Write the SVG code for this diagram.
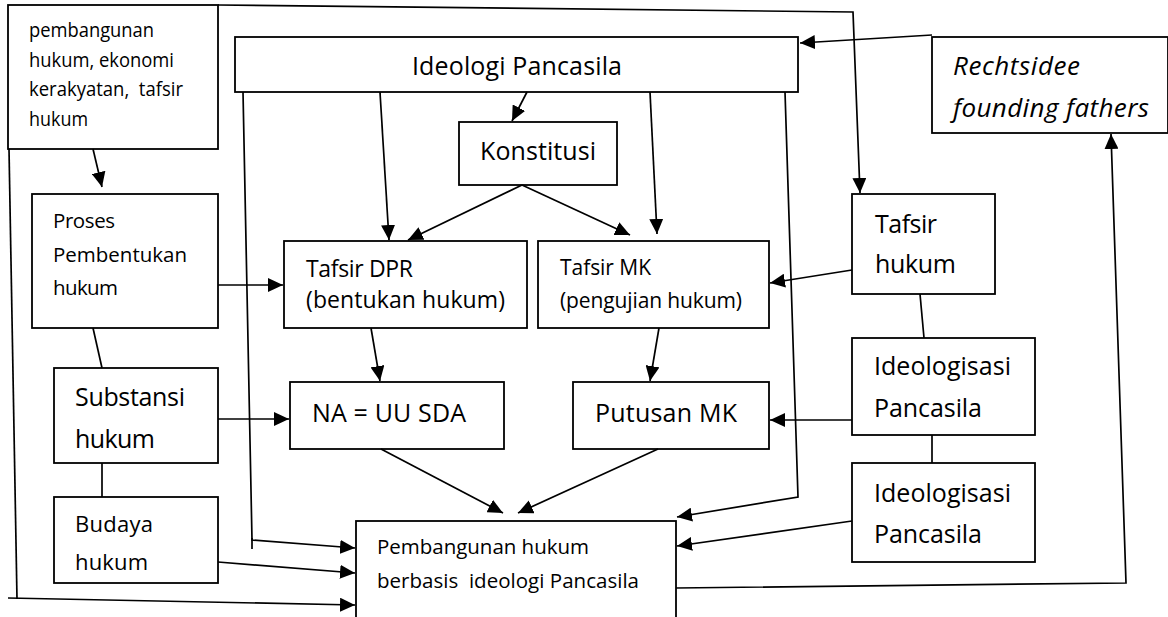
<svg xmlns="http://www.w3.org/2000/svg" width="1168" height="617" viewBox="0 0 1168 617">
<style>
.box{fill:#fff;stroke:#000;stroke-width:1.8}
.ln{fill:none;stroke:#000;stroke-width:1.7}
.ar{marker-end:url(#ah)}
text{font-family:"Open Sans","Noto Sans","Liberation Sans",sans-serif;fill:#000}
.s19{font-size:20px}
.s20{font-size:20.5px}
.s21{font-size:21px}
.s22{font-size:22px}
.s23{font-size:23px}
.s25{font-size:25px}
.it{font-style:italic;font-size:26px}
</style>
<defs>
<marker id="ah" markerUnits="userSpaceOnUse" markerWidth="15" markerHeight="14" refX="15" refY="7" orient="auto">
<path d="M0,0 L15,7 L0,14 z" fill="#000"/>
</marker>
</defs>
<rect width="1168" height="617" fill="#fff"/>

<g id="n-top-left">
<rect class="box" x="8" y="5" width="210" height="144"/>
<text class="s19" x="29" y="37" textLength="125" lengthAdjust="spacingAndGlyphs">pembangunan</text>
<text class="s19" x="29" y="67" textLength="145" lengthAdjust="spacingAndGlyphs">hukum, ekonomi</text>
<text class="s19" x="29" y="96" textLength="154" lengthAdjust="spacingAndGlyphs" xml:space="preserve">kerakyatan,  tafsir</text>
<text class="s19" x="29" y="126" textLength="59" lengthAdjust="spacingAndGlyphs">hukum</text>
</g>
<g id="n-ideologi">
<rect class="box" x="235" y="37" width="563" height="55"/>
<text class="s25" x="412" y="75" textLength="210">Ideologi Pancasila</text>
</g>
<g id="n-rechtsidee">
<rect class="box" x="932" y="37" width="236" height="96"/>
<text class="it" x="953" y="75" textLength="127">Rechtsidee</text>
<text class="it" x="953" y="117" textLength="196">founding fathers</text>
</g>
<g id="n-konstitusi">
<rect class="box" x="459" y="122" width="158" height="63"/>
<text class="s25" x="480" y="160" textLength="116">Konstitusi</text>
</g>
<g id="n-proses">
<rect class="box" x="32" y="194" width="186" height="134"/>
<text class="s20" x="53" y="228" textLength="62">Proses</text>
<text class="s20" x="53" y="262" textLength="134">Pembentukan</text>
<text class="s20" x="53" y="295" textLength="65">hukum</text>
</g>
<g id="n-tafsir-dpr">
<rect class="box" x="284" y="241" width="243" height="87"/>
<text class="s23" x="306" y="277" textLength="107">Tafsir DPR</text>
<text class="s23" x="306" y="308" textLength="199">(bentukan hukum)</text>
</g>
<g id="n-tafsir-mk">
<rect class="box" x="538" y="241" width="231" height="87"/>
<text class="s21" x="560" y="275" textLength="91">Tafsir MK</text>
<text class="s21" x="560" y="308" textLength="182">(pengujian hukum)</text>
</g>
<g id="n-tafsir-hukum">
<rect class="box" x="852" y="194" width="143" height="100"/>
<text class="s25" x="875" y="233" textLength="62">Tafsir</text>
<text class="s25" x="875" y="273" textLength="81">hukum</text>
</g>
<g id="n-substansi">
<rect class="box" x="54" y="368" width="164" height="95"/>
<text class="s25" x="75" y="406" textLength="110">Substansi</text>
<text class="s25" x="75" y="448" textLength="80">hukum</text>
</g>
<g id="n-na">
<rect class="box" x="290" y="382" width="214" height="67"/>
<text class="s25" x="312" y="422" textLength="154">NA = UU SDA</text>
</g>
<g id="n-putusan">
<rect class="box" x="573" y="382" width="196" height="67"/>
<text class="s25" x="595" y="422" textLength="142">Putusan MK</text>
</g>
<g id="n-ideologisasi-1">
<rect class="box" x="852" y="338" width="183" height="97"/>
<text class="s25" x="874" y="375" textLength="137">Ideologisasi</text>
<text class="s25" x="874" y="417" textLength="108">Pancasila</text>
</g>
<g id="n-budaya">
<rect class="box" x="54" y="497" width="164" height="86"/>
<text class="s22" x="75" y="532" textLength="78">Budaya</text>
<text class="s22" x="75" y="570" textLength="73">hukum</text>
</g>
<g id="n-ideologisasi-2">
<rect class="box" x="852" y="463" width="183" height="99"/>
<text class="s25" x="874" y="502" textLength="137">Ideologisasi</text>
<text class="s25" x="874" y="543" textLength="108">Pancasila</text>
</g>
<g id="n-pembangunan">
<rect class="box" x="356" y="521" width="320" height="110"/>
<text class="s20" x="377" y="554" textLength="212">Pembangunan hukum</text>
<text class="s20" x="377" y="588" textLength="262" xml:space="preserve">berbasis  ideologi Pancasila</text>
</g>

<g id="connectors">
<polyline class="ln ar" points="218,5 853,12 860,193"/>
<line class="ln ar" x1="932" y1="35" x2="800" y2="43"/>
<polyline class="ln ar" points="676,588 1126,583 1111,134"/>
<line class="ln ar" x1="93" y1="149" x2="102" y2="187"/>
<line class="ln" x1="9" y1="149" x2="17" y2="599"/>
<line class="ln ar" x1="8" y1="598" x2="355" y2="605"/>
<line class="ln ar" x1="527" y1="92" x2="512" y2="121"/>
<line class="ln ar" x1="380" y1="92" x2="389" y2="240"/>
<line class="ln ar" x1="650" y1="92" x2="657" y2="234"/>
<polyline class="ln ar" points="243,92 252,540 355,548"/>
<line class="ln" x1="252" y1="538" x2="252" y2="549"/>
<polyline class="ln ar" points="785,92 798,497 677,517"/>
<line class="ln ar" x1="522" y1="185" x2="408" y2="240"/>
<line class="ln ar" x1="522" y1="185" x2="630" y2="235"/>
<line class="ln ar" x1="218" y1="285" x2="283" y2="285"/>
<line class="ln ar" x1="852" y1="270" x2="770" y2="283"/>
<line class="ln ar" x1="371" y1="328" x2="380" y2="381"/>
<line class="ln ar" x1="659" y1="328" x2="650" y2="381"/>
<line class="ln" x1="93" y1="328" x2="102" y2="368"/>
<line class="ln" x1="920" y1="294" x2="924" y2="338"/>
<line class="ln ar" x1="218" y1="419" x2="289" y2="419"/>
<line class="ln ar" x1="852" y1="420" x2="770" y2="420"/>
<line class="ln" x1="102" y1="463" x2="102" y2="497"/>
<line class="ln" x1="932" y1="435" x2="932" y2="463"/>
<line class="ln ar" x1="381" y1="449" x2="503" y2="513"/>
<line class="ln ar" x1="658" y1="449" x2="518" y2="513"/>
<line class="ln ar" x1="218" y1="562" x2="355" y2="573"/>
<line class="ln ar" x1="852" y1="521" x2="677" y2="546"/>
</g>
</svg>
